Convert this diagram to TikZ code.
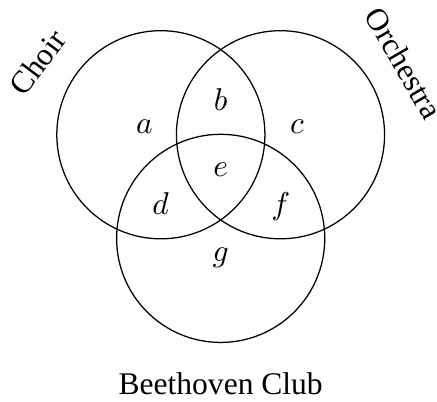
\documentclass[tikz,border=0pt]{standalone}
\usepackage{fontspec}
\setmainfont{Liberation Serif}
\usepackage{tikz}
\usetikzlibrary{positioning}

\begin{document}
\begin{tikzpicture}[set/.style={draw,circle,minimum size=2.32cm,inner sep=0pt}, region/.style={anchor=base}]
\useasboundingbox (-2.46,-2.583) rectangle (2.411,1.887);
% the three sets
\node[set] (choir) at (150:0.77) {};
\node[set] (orch)  at (30:0.77) {};
\node[set] (club)  at (270:0.77) {};
% set names
\node[rotate=53]  (choirname) at (-2.04,1.19) {Choir};
\node[rotate=-60] (orchname)  at (2.04,1.18) {Orchestra};
\node[anchor=base] (clubname) at (0,-2.508) {Beethoven Club};
% regions
\node[region] (ra) at (-0.85,0.40) {$a$};
\node[region] (rb) at (0,0.653) {$b$};
\node[region] (rc) at (0.85,0.40) {$c$};
\node[region] (rd) at (-0.67,-0.50) {$d$};
\node[region] (re) at (0,-0.075) {$e$};
\node[region] (rf) at (0.67,-0.50) {$f$};
\node[region] (rg) at (0,-1.03) {$g$};
\end{tikzpicture}
\end{document}
